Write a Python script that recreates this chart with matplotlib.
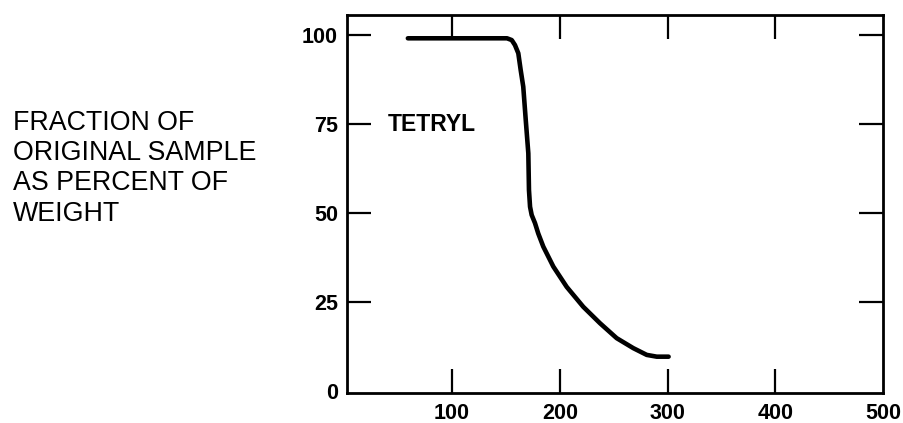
import matplotlib
matplotlib.use("Agg")
import matplotlib.pyplot as plt

plt.rcParams['font.family'] = ['Liberation Sans', 'DejaVu Sans']

# temperature (deg C) vs weight fraction remaining (%)
temp = [59, 100, 140, 151, 155.4, 158.4, 161.5, 163.7, 166.1, 168.4, 170.8,
        171.4, 172.4, 173.9, 177, 180, 184.7, 194, 206.4, 221.8, 237.3,
        252.8, 268.2, 280.7, 290, 301]
weight = [99.1, 99.1, 99.1, 99.1, 98.6, 97.2, 94.9, 90.2, 85.5, 76.2, 66.8,
          56.5, 51.8, 49.5, 47.2, 44.3, 40.6, 35.0, 29.3, 23.7, 19.1,
          14.9, 12.1, 10.2, 9.7, 9.7]

x_ticks = [100, 200, 300, 400, 500]
y_ticks = [0, 25, 50, 75, 100]
label = "TETRYL"
y_title = "FRACTION OF\nORIGINAL SAMPLE\nAS PERCENT OF\nWEIGHT"

fig = plt.figure(figsize=(9.04, 4.23), dpi=100)
ax = fig.add_axes([347/904, 1-393/423, (883-347)/904, (393-15.5)/423])

ax.plot(temp, weight, color='black', lw=3.3, solid_capstyle='round',
        solid_joinstyle='round')

ax.set_xlim(2.5, 500)
ax.set_ylim(-0.5, 105.5)
ax.set_xticks(x_ticks)
ax.set_yticks(y_ticks)
ax.tick_params(direction='in', length=17, width=1.6, labelsize=15.5,
               top=True, right=True, pad=7)
ax.tick_params(axis='y', pad=6.5)
for lab in ax.get_xticklabels() + ax.get_yticklabels():
    lab.set_fontweight('bold')
# corner values get a label but no tick mark
for t in [ax.xaxis.get_major_ticks()[-1], ax.yaxis.get_major_ticks()[0]]:
    t.tick1line.set_visible(False)
    t.tick2line.set_visible(False)
for s in ax.spines.values():
    s.set_linewidth(2)

ax.text(40, 75, label, fontsize=16.5, fontweight='bold', va='center',
        ha='left')

fig.text(13/904, 1-110/423, y_title, fontsize=19.3, va='top', ha='left',
         linespacing=1.21)

fig.savefig("out.png", dpi=100)
